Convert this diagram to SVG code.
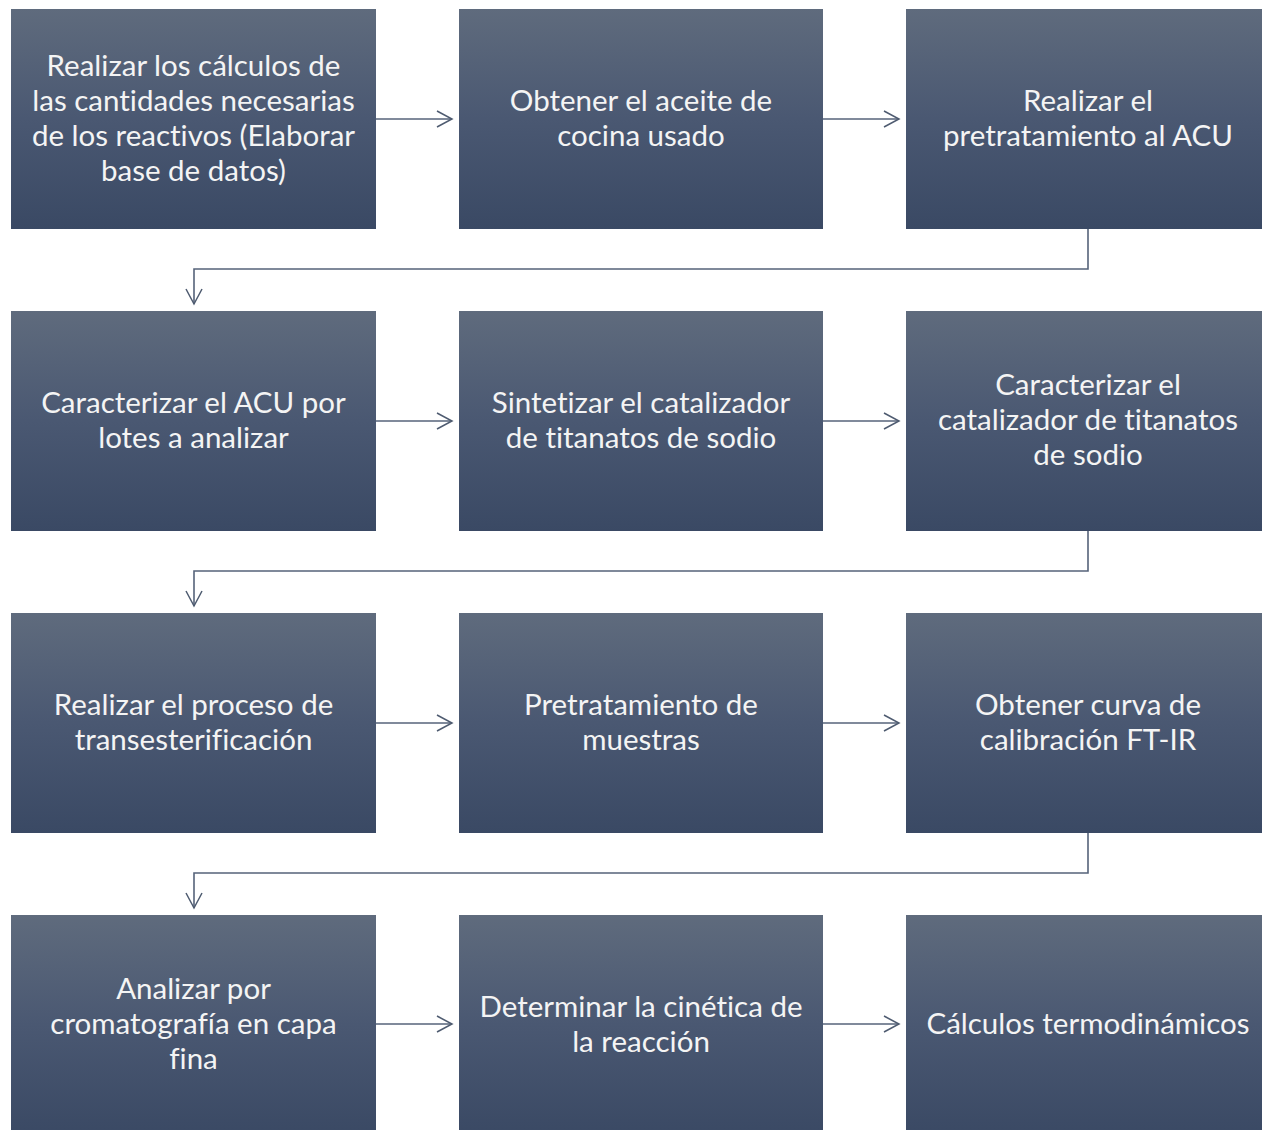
<svg xmlns="http://www.w3.org/2000/svg" width="1262" height="1130" viewBox="0 0 1262 1130">
<defs>
<linearGradient id="g" x1="0" y1="0" x2="0" y2="1">
<stop offset="0" stop-color="#5f6b7d"/>
<stop offset="0.5" stop-color="#4a5872"/>
<stop offset="1" stop-color="#3a4964"/>
</linearGradient>
<marker id="arr" markerWidth="18" markerHeight="18" refX="16" refY="9" orient="auto" markerUnits="userSpaceOnUse">
<path d="M1,1 L16,9 L1,17" fill="none" stroke="#4e5b70" stroke-width="1.5"/>
</marker>
<style>
.box{fill:url(#g);}
.t{font-family:Lato,"Open Sans","Noto Sans",sans-serif;font-size:29.5px;fill:#f4f4f4;text-anchor:middle;font-variant-ligatures:none;font-feature-settings:"liga" 0;}
.c{fill:none;stroke:#56637a;stroke-width:1.6;}
</style>
</defs>
<rect width="1262" height="1130" fill="#ffffff"/>
<g id="connectors">
<path class="c" d="M376,119 H452" marker-end="url(#arr)"/>
<path class="c" d="M823,119 H899" marker-end="url(#arr)"/>
<path class="c" d="M1088,229 V269 H194 V304" marker-end="url(#arr)"/>
<path class="c" d="M376,421 H452" marker-end="url(#arr)"/>
<path class="c" d="M823,421 H899" marker-end="url(#arr)"/>
<path class="c" d="M1088,531 V571 H194 V606" marker-end="url(#arr)"/>
<path class="c" d="M376,723 H452" marker-end="url(#arr)"/>
<path class="c" d="M823,723 H899" marker-end="url(#arr)"/>
<path class="c" d="M1088,833 V873 H194 V908" marker-end="url(#arr)"/>
<path class="c" d="M376,1024 H452" marker-end="url(#arr)"/>
<path class="c" d="M823,1024 H899" marker-end="url(#arr)"/>
</g>
<g id="n1"><rect class="box" x="11" y="9" width="365" height="220"/>
<text class="t" x="193.5" y="76">Realizar los cálculos de</text>
<text class="t" x="193.5" y="111">las cantidades necesarias</text>
<text class="t" x="193.5" y="146">de los reactivos (Elaborar</text>
<text class="t" x="193.5" y="181">base de datos)</text></g>
<g id="n2"><rect class="box" x="459" y="9" width="364" height="220"/>
<text class="t" x="641" y="111">Obtener el aceite de</text>
<text class="t" x="641" y="146">cocina usado</text></g>
<g id="n3"><rect class="box" x="906" y="9" width="364" height="220"/>
<text class="t" x="1088" y="111">Realizar el</text>
<text class="t" x="1088" y="146">pretratamiento al ACU</text></g>
<g id="n4"><rect class="box" x="11" y="311" width="365" height="220"/>
<text class="t" x="193.5" y="413">Caracterizar el ACU por</text>
<text class="t" x="193.5" y="448">lotes a analizar</text></g>
<g id="n5"><rect class="box" x="459" y="311" width="364" height="220"/>
<text class="t" x="641" y="413">Sintetizar el catalizador</text>
<text class="t" x="641" y="448">de titanatos de sodio</text></g>
<g id="n6"><rect class="box" x="906" y="311" width="364" height="220"/>
<text class="t" x="1088" y="395">Caracterizar el</text>
<text class="t" x="1088" y="430">catalizador de titanatos</text>
<text class="t" x="1088" y="465">de sodio</text></g>
<g id="n7"><rect class="box" x="11" y="613" width="365" height="220"/>
<text class="t" x="193.5" y="715">Realizar el proceso de</text>
<text class="t" x="193.5" y="750">transesterificación</text></g>
<g id="n8"><rect class="box" x="459" y="613" width="364" height="220"/>
<text class="t" x="641" y="715">Pretratamiento de</text>
<text class="t" x="641" y="750">muestras</text></g>
<g id="n9"><rect class="box" x="906" y="613" width="364" height="220"/>
<text class="t" x="1088" y="715">Obtener curva de</text>
<text class="t" x="1088" y="750">calibración FT-IR</text></g>
<g id="n10"><rect class="box" x="11" y="915" width="365" height="220"/>
<text class="t" x="193.5" y="999">Analizar por</text>
<text class="t" x="193.5" y="1034">cromatografía en capa</text>
<text class="t" x="193.5" y="1069">fina</text></g>
<g id="n11"><rect class="box" x="459" y="915" width="364" height="220"/>
<text class="t" x="641" y="1017">Determinar la cinética de</text>
<text class="t" x="641" y="1052">la reacción</text></g>
<g id="n12"><rect class="box" x="906" y="915" width="364" height="220"/>
<text class="t" x="1088" y="1034">Cálculos termodinámicos</text></g>
</svg>
